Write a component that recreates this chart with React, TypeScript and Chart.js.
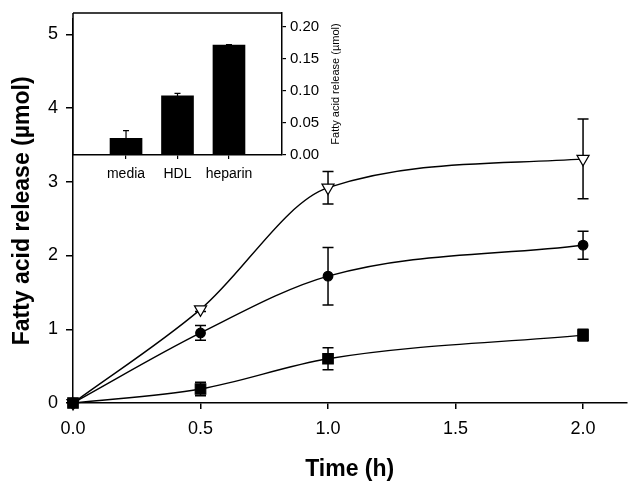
import React, { useEffect, useRef } from "react";
import { Chart, registerables } from "chart.js";

Chart.register(...registerables);

// Main chart data
const times = [0, 0.5, 1.0, 2.0];
const heparinMean = [0, 1.27, 2.92, 3.31];
const heparinErr = [0, 0.03, 0.22, 0.54];
const hdlMean = [0, 0.95, 1.72, 2.14];
const hdlErr = [0, 0.1, 0.39, 0.19];
const mediaMean = [0, 0.19, 0.6, 0.92];
const mediaErr = [0, 0.09, 0.15, 0.08];
const xTicks = [0, 0.5, 1.0, 1.5, 2.0];
const yTicks = [0, 1, 2, 3, 4, 5];

// Inset data
const insetCategories = ["media", "HDL", "heparin"];
const insetValues = [0.026, 0.092, 0.171];
const insetErr = [0.012, 0.004, 0.001];
const insetTicks = [0, 0.05, 0.1, 0.15, 0.2];

const FONT = "'Liberation Sans', Arial, sans-serif";

const errorBarPlugin = {
  id: "errorBars",
  beforeDatasetsDraw(chart: any) {
    const ctx = chart.ctx;
    const xs = chart.scales.x;
    const ys = chart.scales.y;
    ctx.save();
    ctx.strokeStyle = "#000";
    ctx.lineWidth = 1.5;
    chart.data.datasets.forEach((ds: any) => {
      const errs: number[] = ds.errors || [];
      ds.data.forEach((p: any, i: number) => {
        const e = errs[i];
        if (!e) return;
        const px = xs.getPixelForValue(p.x);
        const yTop = ys.getPixelForValue(p.y + e);
        const yBot = ys.getPixelForValue(p.y - e);
        ctx.beginPath();
        ctx.moveTo(px, yTop);
        ctx.lineTo(px, yBot);
        ctx.moveTo(px - 5.5, yTop);
        ctx.lineTo(px + 5.5, yTop);
        ctx.moveTo(px - 5.5, yBot);
        ctx.lineTo(px + 5.5, yBot);
        ctx.stroke();
      });
    });
    ctx.restore();
  },
};

const insetDecorPlugin = {
  id: "insetDecor",
  beforeDraw(chart: any) {
    const { ctx, chartArea } = chart;
    ctx.save();
    ctx.fillStyle = "#fff";
    ctx.fillRect(chartArea.left, chartArea.top, chartArea.right - chartArea.left, chartArea.bottom - chartArea.top);
    ctx.restore();
  },
  afterDraw(chart: any) {
    const { ctx, chartArea } = chart;
    const xs = chart.scales.x;
    const ys = chart.scales.y;
    ctx.save();
    ctx.strokeStyle = "#000";
    ctx.lineWidth = 1.5;
    ctx.beginPath();
    ctx.moveTo(chartArea.left, chartArea.top);
    ctx.lineTo(chartArea.right, chartArea.top);
    ctx.moveTo(chartArea.left, chartArea.top);
    ctx.lineTo(chartArea.left, chartArea.bottom);
    ctx.stroke();
    // upper error bars
    ctx.lineWidth = 1.2;
    insetValues.forEach((v, i) => {
      const e = insetErr[i];
      const px = xs.getPixelForValue(i);
      const y0 = ys.getPixelForValue(v);
      const y1 = ys.getPixelForValue(v + e);
      ctx.beginPath();
      ctx.moveTo(px, y0);
      ctx.lineTo(px, y1);
      ctx.moveTo(px - 3, y1);
      ctx.lineTo(px + 3, y1);
      ctx.stroke();
    });
    // right-side axis title, reading bottom to top
    ctx.fillStyle = "#000";
    ctx.font = `11px ${FONT}`;
    ctx.textAlign = "center";
    ctx.textBaseline = "middle";
    ctx.translate(336, (chartArea.top + chartArea.bottom) / 2);
    ctx.rotate(-Math.PI / 2);
    ctx.fillText("Fatty acid release (µmol)", 0, 0);
    ctx.restore();
  },
};

export default function App() {
  const mainRef = useRef<HTMLCanvasElement>(null);
  const insetRef = useRef<HTMLCanvasElement>(null);

  useEffect(() => {
    document.body.style.margin = "0";
    const toPts = (ys: number[]) => times.map((t, i) => ({ x: t, y: ys[i] }));
    const lineCommon = {
      borderColor: "#000",
      borderWidth: 1.4,
      cubicInterpolationMode: "monotone" as const,
      pointBorderColor: "#000",
      pointBorderWidth: 1.2,
      clip: false,
    };
    const main = new Chart(mainRef.current!, {
      type: "line",
      data: {
        datasets: [
          {
            ...lineCommon,
            data: toPts(mediaMean),
            errors: mediaErr,
            pointStyle: "rect",
            pointRadius: 7.4,
            pointBackgroundColor: "#000",
          } as any,
          {
            ...lineCommon,
            data: toPts(hdlMean),
            errors: hdlErr,
            pointStyle: "circle",
            pointRadius: 4.8,
            pointBackgroundColor: "#000",
          } as any,
          {
            ...lineCommon,
            data: toPts(heparinMean),
            errors: heparinErr,
            pointStyle: "triangle",
            pointRotation: 180,
            pointRadius: 7,
            pointBackgroundColor: "#fff",
          } as any,
        ],
      },
      options: {
        animation: false,
        responsive: false,
        layout: { padding: { left: 0, top: 9, right: 5, bottom: 0 } },
        plugins: { legend: { display: false }, tooltip: { enabled: false } },
        scales: {
          x: {
            type: "linear",
            min: 0,
            max: 2.17,
            afterFit: (s: any) => {
              s.height = 80;
            },
            afterBuildTicks: (s: any) => {
              s.ticks = xTicks.map((v) => ({ value: v }));
            },
            ticks: {
              color: "#000",
              font: { family: FONT, size: 18 },
              padding: 9,
              maxRotation: 0,
              callback: (v: any) => Number(v).toFixed(1),
            },
            grid: { drawOnChartArea: false, drawTicks: true, tickLength: 6, color: "#000", lineWidth: 1.5 },
            border: { display: true, color: "#000", width: 1.5 },
            title: {
              display: true,
              text: "Time (h)",
              color: "#000",
              font: { family: FONT, size: 23, weight: "bold" },
              padding: { top: 0, bottom: 0 },
            },
          },
          y: {
            min: 0,
            max: 5.21,
            afterFit: (s: any) => {
              s.width = 73;
            },
            afterBuildTicks: (s: any) => {
              s.ticks = yTicks.map((v) => ({ value: v }));
            },
            ticks: {
              color: "#000",
              font: { family: FONT, size: 18 },
              padding: 8,
            },
            grid: { drawOnChartArea: false, drawTicks: true, tickLength: 7, color: "#000", lineWidth: 1.5 },
            border: { display: true, color: "#000", width: 1.5 },
            title: {
              display: true,
              text: "Fatty acid release (µmol)",
              color: "#000",
              font: { family: FONT, size: 23, weight: "bold" },
              padding: { top: 9, bottom: 0 },
            },
          },
        },
      } as any,
      plugins: [errorBarPlugin],
    });

    const inset = new Chart(insetRef.current!, {
      type: "bar",
      data: {
        datasets: [
          {
            data: insetValues.map((v, i) => ({ x: i, y: v })),
            backgroundColor: "#000",
            borderWidth: 0,
            barThickness: 32,
          } as any,
        ],
      },
      options: {
        animation: false,
        responsive: false,
        layout: { padding: { left: 73, top: 9, right: 635 - 282 - 60, bottom: 483 - 155 - 32 } },
        plugins: { legend: { display: false }, tooltip: { enabled: false } },
        scales: {
          x: {
            type: "linear",
            offset: false,
            min: -1.03,
            max: 3.03,
            afterFit: (s: any) => {
              s.height = 32;
            },
            afterBuildTicks: (s: any) => {
              s.ticks = insetCategories.map((_, i) => ({ value: i }));
            },
            ticks: {
              color: "#000",
              font: { family: FONT, size: 14 },
              padding: 7,
              maxRotation: 0,
              autoSkip: false,
              callback: (v: any) => insetCategories[Math.round(Number(v))] ?? "",
            },
            grid: { offset: false, drawOnChartArea: false, drawTicks: true, tickLength: 4, color: "#000", lineWidth: 1.2 },
            border: { display: true, color: "#000", width: 1.5 },
          },
          y: {
            position: "right",
            min: 0,
            max: 0.221,
            afterFit: (s: any) => {
              s.width = 60;
            },
            afterBuildTicks: (s: any) => {
              s.ticks = insetTicks.map((v) => ({ value: v }));
            },
            ticks: {
              color: "#000",
              font: { family: FONT, size: 15 },
              padding: 4,
              callback: (v: any) => Number(v).toFixed(2),
            },
            grid: { drawOnChartArea: false, drawTicks: true, tickLength: 4, color: "#000", lineWidth: 1.2 },
            border: { display: true, color: "#000", width: 1.5 },
          },
        },
      } as any,
      plugins: [insetDecorPlugin],
    });

    return () => {
      main.destroy();
      inset.destroy();
    };
  }, []);

  return (
    <div style={{ position: "relative", width: 635, height: 483, background: "#fff" }}>
      <canvas ref={mainRef} width={635} height={483} style={{ position: "absolute", left: 0, top: 0 }} />
      <canvas
        ref={insetRef}
        width={635}
        height={483}
        style={{ position: "absolute", left: 0, top: 0, pointerEvents: "none" }}
      />
    </div>
  );
}
